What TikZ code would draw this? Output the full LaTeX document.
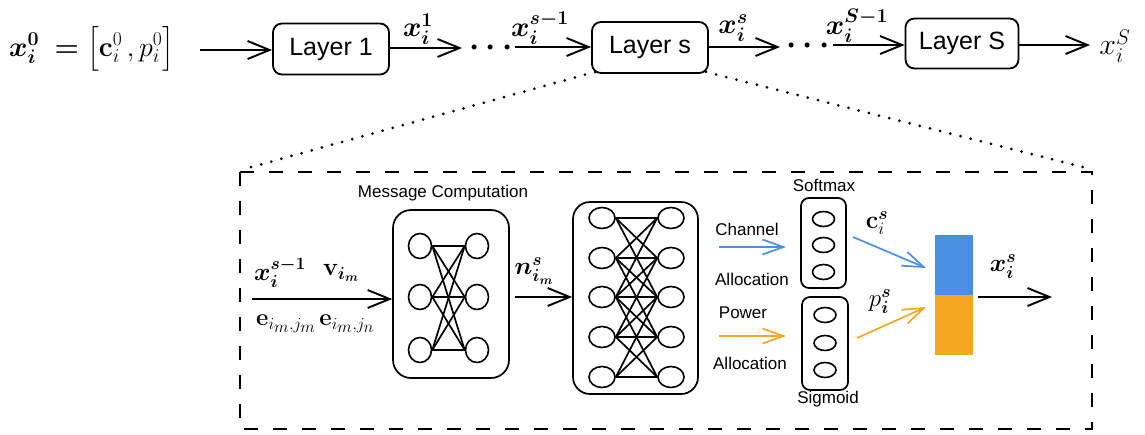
\documentclass[tikz,border=0pt]{standalone}
\usepackage{fix-cm}
\usepackage{amsmath}
\usepackage[no-math]{fontspec}
\setmainfont{Liberation Sans}
\usetikzlibrary{arrows.meta,shapes.geometric}
\definecolor{cblue}{HTML}{4A90E2}
\definecolor{corange}{HTML}{F5A623}
\newcommand{\bx}{\boldsymbol{x}}
\newcommand{\bi}{\boldsymbol{i}}
\begin{document}
\begin{tikzpicture}[x=1pt,y=-1pt,
  lay/.style={draw, rounded corners=9pt, line width=1.8pt, minimum width=116pt, minimum height=51pt, inner sep=0pt, font=\fontsize{25}{30}\selectfont},
  arr/.style={line width=1.9pt, -{Straight Barb[length=22pt,width=18pt]}},
  carr/.style={line width=1.7pt, -{Straight Barb[length=21pt,width=15pt]}},
  mth/.style={inner sep=0pt, font=\fontsize{28}{32}\selectfont},
  smth/.style={inner sep=0pt, font=\fontsize{25}{29}\selectfont},
  lbl/.style={inner sep=0pt, font=\fontsize{17}{20}\selectfont},
  neu/.style={draw, ellipse, line width=1.6pt, inner sep=0pt},
  nbox/.style={draw, line width=1.7pt, inner sep=0pt},
  nnline/.style={line width=1.7pt},
  dotl/.style={line width=3pt, line cap=round, dash pattern=on 0pt off 10.5pt}
]
\useasboundingbox (0,0) rectangle (1145,434);

% ---- top chain ----
\node[mth, anchor=west] (x0) at (9,49) {$\bx^{\mathbf{0}}_{\bi}\;\boldsymbol{=}\bigl[\mathbf{c}^{0}_{i}\,,p^{0}_{i}\bigr]$};
\coordinate (a0s) at (200,50);
\node[lay] (L1) at (331,49) {Layer 1};
\node[lay] (Ls) at (650,47.5) {Layer s};
\node[lay, minimum width=113pt, minimum height=50pt] (LS) at (962,43.5) {Layer S};
\draw[arr] (a0s) -- (L1.west |- a0s);

\coordinate (a1e) at (462,48);
\draw[arr] (L1.east |- a1e) -- (a1e);
\node[mth] (l1) at (418,29) {$\bx_{\bi}^{\mathbf{1}}$};
\node[mth, font=\fontsize{32}{36}\selectfont] (d1) at (494,48) {$\boldsymbol{\cdots}$};
\coordinate (a2s) at (515,47);
\draw[arr] (a2s) -- (Ls.west |- a2s);
\node[mth] (l2) at (540,28) {$\bx_{\bi}^{\boldsymbol{s-1}}$};

\coordinate (a3e) at (780,47);
\draw[arr] (Ls.east |- a3e) -- (a3e);
\node[mth] (l3) at (733,28) {$\bx_{\bi}^{\boldsymbol{s}}$};
\node[mth, font=\fontsize{32}{36}\selectfont] (d2) at (811,46) {$\boldsymbol{\cdots}$};
\coordinate (a4s) at (833,45);
\draw[arr] (a4s) -- (LS.west |- a4s);
\node[mth] (l4) at (857,26) {$\bx_{\bi}^{\boldsymbol{S-1}}$};
\coordinate (a5e) at (1090,45);
\draw[arr] (LS.east |- a5e) -- (a5e);
\node[mth, font=\fontsize{30}{34}\selectfont] (xS) at (1115,46) {$x_{i}^{S}$};

% ---- zoom box ----
\coordinate (bTL) at (240,172);
\coordinate (bBR) at (1092,429);
\draw[line width=2.4pt, dash pattern=on 14pt off 15pt] (bTL) rectangle (bBR);
\draw[dotl] (Ls.south west) ++(4,-2) -- (248,168);
\draw[dotl] (Ls.south east) ++(-3,-2) -- (1087,168);

% ---- input ----
\coordinate (ins) at (252,299);
\node[smth] (xin) at (280,273) {$\bx_{\bi}^{\boldsymbol{s-1}}$};
\node[smth] (vin) at (341,273) {$\mathbf{v}_{\boldsymbol{i_m}}$};
\node[smth, font=\fontsize{24}{28}\selectfont] (e1) at (286,324) {$\mathbf{e}_{i_{\scriptstyle m},j_{\scriptstyle m}}$};
\node[smth, font=\fontsize{24}{28}\selectfont] (e2) at (347,324) {$\mathbf{e}_{i_{\scriptstyle m},j_{\scriptstyle n}}$};

% ---- NN1 ----
\node[lbl] (mc) at (443,193) {Message Computation};
\node[nbox, rounded corners=18pt, minimum width=116pt, minimum height=168pt] (nn1) at (451,294) {};
\draw[arr] (ins) -- (nn1.west |- ins);
\foreach \r/\y in {1/246,2/297,3/350}{
  \node[neu, minimum width=23pt, minimum height=25pt] (a\r) at (420,\y) {};
  \node[neu, minimum width=23pt, minimum height=25pt] (b\r) at (477,\y) {};
}
\foreach \i in {1,2,3}{\foreach \j in {1,2,3}{\draw[nnline] (a\i.east) -- (b\j.west);}}

% ---- NN2 ----
\node[nbox, rounded corners=17pt, minimum width=125pt, minimum height=192pt] (nn2) at (635.5,298) {};
\coordinate (ns) at (515,297);
\draw[arr] (ns) -- (nn2.west |- ns);
\node[smth] (nl) at (534,271) {$\boldsymbol{n}_{\boldsymbol{i_m}}^{\boldsymbol{s}}$};
\foreach \r/\y in {1/218,2/258,3/297,4/337,5/377}{
  \node[neu, minimum width=26pt, minimum height=21pt] (c\r) at (602,\y) {};
  \node[neu, minimum width=26pt, minimum height=21pt] (d\r) at (671,\y) {};
}
\foreach \i in {1,...,5}{\foreach \j in {1,...,5}{
  \pgfmathtruncatemacro{\dd}{abs(\i-\j)}
  \ifnum\dd<3 \draw[nnline] (c\i.east) -- (d\j.west);\fi
}}

% ---- allocation ----
\node[lbl] (ch) at (747,229) {Channel};
\node[lbl] (al1) at (752,279) {Allocation};
\node[lbl] (pw) at (743,313) {Power};
\node[lbl] (al2) at (750,363) {Allocation};
\coordinate (bas) at (719,247);
\coordinate (bae) at (786,247);
\coordinate (oas) at (719,336);
\coordinate (oae) at (786,336);
\draw[carr, cblue] (bas) -- (bae);
\draw[carr, corange] (oas) -- (oae);

\node[nbox, rounded corners=8pt, minimum width=45pt, minimum height=90pt] (smx) at (823.5,243) {};
\node[nbox, rounded corners=8pt, minimum width=46pt, minimum height=93pt] (sig) at (825,343.5) {};
\node[lbl] (smt) at (824,185) {Softmax};
\node[lbl] (sgt) at (828,399) {Sigmoid};
\foreach \r/\y in {1/219,2/245,3/272}{\node[neu, minimum width=22pt, minimum height=15pt] (s\r) at (823.5,\y) {};}
\foreach \r/\y in {1/315,2/343,3/370}{\node[neu, minimum width=22pt, minimum height=15pt] (g\r) at (825,\y) {};}

% ---- output vector ----
\node[inner sep=0pt, minimum width=38pt, minimum height=60pt, fill=cblue] (vb) at (954,265) {};
\node[inner sep=0pt, minimum width=38pt, minimum height=60pt, fill=corange] (vo) at (954,325) {};
\coordinate (cs) at (853,237);
\coordinate (ps) at (857,338);
\coordinate (ce) at (926,268);
\coordinate (pe) at (926,307);
\draw[carr, cblue] (cs) -- (ce);
\draw[carr, corange] (ps) -- (pe);
\node[smth] (cl) at (877,223) {$\mathbf{c}_{i}^{\boldsymbol{s}}$};
\node[smth] (pl) at (880,302) {$p_{\bi}^{\boldsymbol{s}}$};
\coordinate (outs) at (978,297);
\coordinate (oute) at (1052,297);
\draw[arr] (outs) -- (oute);
\node[smth] (xo) at (1003,267) {$\bx_{\bi}^{\boldsymbol{s}}$};
\end{tikzpicture}
\end{document}
